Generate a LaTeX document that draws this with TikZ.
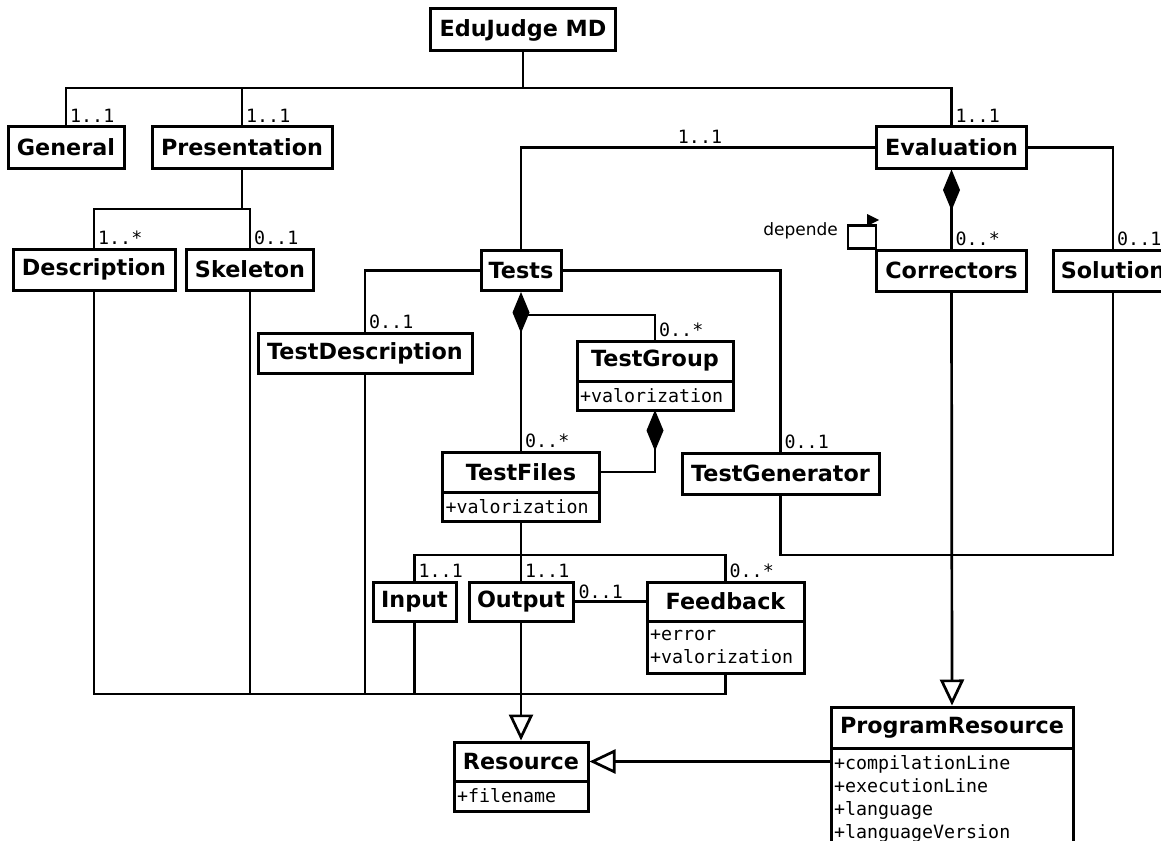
\documentclass[tikz,border=0pt]{standalone}
\usepackage{fontspec}
\setmainfont{DejaVu Sans}
\newfontfamily\monofont{DejaVu Sans Mono}
\usetikzlibrary{arrows.meta}
\begin{document}
\begin{tikzpicture}[x=1pt,y=-1pt,
 cls/.style={draw, line width=3pt, inner sep=0pt, fill=white, font=\fontsize{22.3}{26}\selectfont\bfseries},
 attr/.style={draw, line width=3pt, outer sep=0pt, inner xsep=3pt, inner ysep=6pt, anchor=north, align=left, fill=white, font=\fontsize{18.3}{22.5}\selectfont\monofont},
 mult/.style={anchor=south west, inner xsep=4pt, inner ysep=3pt, font=\fontsize{18.3}{22}\selectfont\monofont},
 conn/.style={line width=2.7pt},
 comp/.style={conn, {Diamond[length=41pt,width=17pt]}-},
 genz/.style={conn, -{Triangle[open,length=26pt,width=24pt,line width=2.7pt]}},
]
\useasboundingbox (0,0) rectangle (1161,840);
\clip (0,0) rectangle (1161,840);
% classes
\node[cls, minimum width=185pt, minimum height=42pt] (edu) at (523,30) {EduJudge MD};
\node[cls, minimum width=116pt, minimum height=41pt] (gen) at (66,147.5) {General};
\node[cls, minimum width=180pt, minimum height=41pt] (pres) at (242,147.5) {Presentation};
\node[cls, minimum width=150pt, minimum height=41pt] (eval) at (951.5,147.5) {Evaluation};
\node[cls, minimum width=162pt, minimum height=41pt] (desc) at (94,269.5) {Description};
\node[cls, minimum width=127pt, minimum height=41pt] (skel) at (250,269.5) {Skeleton};
\node[cls, minimum width=80pt, minimum height=40pt] (tests) at (521,270.5) {Tests};
\node[cls, minimum width=150pt, minimum height=41pt] (corr) at (951.5,270.5) {Correctors};
\node[cls, minimum width=120pt, minimum height=41pt] (sol) at (1113,270.5) {Solution};
\node[cls, minimum width=214pt, minimum height=40pt] (tdesc) at (365,353) {TestDescription};
\node[cls, minimum width=156pt, minimum height=40pt] (tgroup) at (655,361) {TestGroup};
\node[attr, text width=150pt, minimum height=29pt] (tgroupA) at ([yshift=1.5pt]tgroup.south) {+valorization};
\node[cls, minimum width=197pt, minimum height=41pt] (tgen) at (780.5,473.5) {TestGenerator};
\node[cls, minimum width=157pt, minimum height=40pt] (tfiles) at (521,472) {TestFiles};
\node[attr, text width=151pt, minimum height=29pt] (tfilesA) at ([yshift=1.5pt]tfiles.south) {+valorization};
\node[cls, minimum width=83pt, minimum height=39pt] (input) at (414.5,601.5) {Input};
\node[cls, minimum width=104pt, minimum height=39pt] (output) at (521,601.5) {Output};
\node[cls, minimum width=157pt, minimum height=39pt] (feed) at (725.5,601.5) {Feedback};
\node[attr, text width=151pt, minimum height=52pt] (feedA) at ([yshift=1.5pt]feed.south) {+error\\+valorization};
\node[cls, minimum width=134pt, minimum height=39pt] (res) at (521,761.5) {Resource};
\node[attr, text width=128pt, minimum height=30pt] (resA) at ([yshift=1.5pt]res.south) {+filename};
\node[cls, minimum width=242pt, minimum height=41pt] (pr) at (952,727.5) {ProgramResource};
\node[attr, text width=236pt, inner ysep=7pt, font=\fontsize{18.3}{23.2}\selectfont\monofont] (prA) at ([yshift=1.5pt]pr.south) {+compilationLine\\+executionLine\\+language\\+languageVersion};
% top tree
\coordinate (j1) at (523,88);
\draw[conn] (edu.south) -- (j1);
\draw[conn] (gen.north) |- (j1 -| eval.north) -- (eval.north);
\draw[conn] (pres.north) -- (pres.north |- j1);
\node[mult] at (gen.north) {1..1};
\node[mult] at (pres.north) {1..1};
\node[mult] at (eval.north) {1..1};
% presentation
\coordinate (j2) at (242,209);
\draw[conn] (pres.south) -- (j2);
\draw[conn] (desc.north) |- (j2 -| skel.north) -- (skel.north);
\node[mult] at (desc.north) {1..*};
\node[mult] at (skel.north) {0..1};
% evaluation
\draw[conn] (eval.west) -| (tests.north);
\node[mult, anchor=south] (m11) at (700,147) {1..1};
\draw[comp] (eval.south) -- (corr.north);
\node[mult] at (corr.north) {0..*};
\draw[conn] (eval.east) -| (sol.north);
\node[mult] at (sol.north) {0..1};
\draw[conn] (corr.north west) -- ++(-27,0) -- ++(0,-23) -- ++(28,0) -- ++(0,23);
\fill (867,214) -- (867,226) -- (879,220) -- cycle;
\node[anchor=base east, inner sep=0pt, font=\fontsize{17}{20}\selectfont] (dep) at (838,235) {depende};
% tests
\draw[conn] (tests.west) -| (tdesc.north);
\node[mult] at (tdesc.north) {0..1};
\draw[conn] (tests.east) -| (tgen.north);
\node[mult] at (tgen.north) {0..1};
\draw[comp] (tests.south) -- (tfiles.north);
\node[mult] at (tfiles.north) {0..*};
\coordinate (tgj) at (521,315);
\draw[conn] (tgj) -| (tgroup.north);
\node[mult] at (tgroup.north) {0..*};
\draw[comp] (tgroupA.south) |- (tfiles.east);
% test files
\coordinate (j3) at (521,555);
\draw[conn] (tfilesA.south) -- (j3);
\draw[conn] (input.north) |- (j3 -| feed.north) -- (feed.north);
\draw[conn] (j3) -- (output.north);
\node[mult] at (input.north) {1..1};
\node[mult] at (output.north) {1..1};
\node[mult] at (feed.north) {0..*};
\draw[conn] (output.east) -- (feed.west);
\node[mult] at (output.east) {0..1};
% resources
\coordinate (j4) at (521,694);
\draw[conn] (desc.south) |- (j4 -| feedA.south) -- (feedA.south);
\draw[conn] (skel.south) -- (skel.south |- j4);
\draw[conn] (tdesc.south) -- (tdesc.south |- j4);
\draw[conn] (input.south) -- (input.south |- j4);
\draw[conn] (output.south) -- (j4);
\draw[genz] (j4) -- (res.north);
\coordinate (j5) at (780.5,555);
\draw[conn] (tgen.south) |- (sol.south |- j5) -- (sol.south);
\draw[genz] (corr.south) -- (pr.north);
\draw[genz] (res.east -| pr.west) -- (res.east);
\end{tikzpicture}
\end{document}
